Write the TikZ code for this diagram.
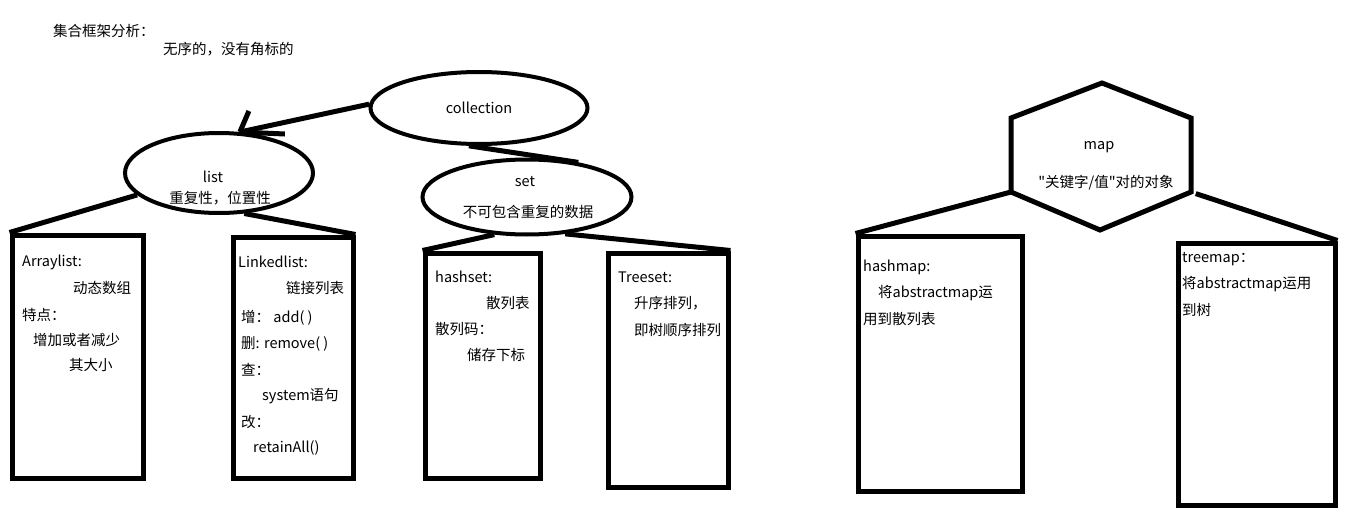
\documentclass[tikz,border=0pt]{standalone}
\usepackage{fontspec}
\setmainfont{Noto Sans CJK SC}[Ligatures=TeXOff]
\usetikzlibrary{shapes.geometric}
\tikzset{
    oval/.style={
        draw,
        ellipse,
        line width=4pt,
        inner sep=0pt
    },
    classbox/.style={
        draw,
        line width=5pt,
        inner sep=0pt
    },
    link/.style={line width=5pt},
    txt/.style={anchor=west, inner sep=0pt},
    ctxt/.style={inner sep=0pt},
    every node/.style={font=\fontsize{14.5}{17}\selectfont}
}
\begin{document}
\begin{tikzpicture}[x=1pt,y=-1pt]
\useasboundingbox (0,0) rectangle (1360,527);

% heading
\node[txt] (head1) at (53,31) {集合框架分析：};
\node[txt] (head2) at (163,49) {无序的，没有角标的};

% collection
\node[oval, minimum width=217pt, minimum height=72pt] (collection) at (479,108) {collection};

% list
\node[oval, minimum width=188pt, minimum height=80pt] (list) at (219,173) {};
\node[ctxt] (listname) at (213,177) {list};
\node[ctxt] (listnote) at (220,198) {重复性，位置性};

% set
\node[oval, minimum width=209pt, minimum height=75pt] (set) at (527,197) {};
\node[ctxt] (setname) at (525,182) {set};
\node[ctxt] (setnote) at (528,212) {不可包含重复的数据};

% map
\coordinate (mapT) at (1102,83);
\coordinate (mapUR) at (1191,118);
\coordinate (mapLR) at (1191,192);
\coordinate (mapB) at (1100,230);
\coordinate (mapLL) at (1011,192);
\coordinate (mapUL) at (1011,118);
\draw[link] (mapT) -- (mapUR) -- (mapLR) -- (mapB) -- (mapLL) -- (mapUL) -- cycle;
\node[ctxt] (mapname) at (1099,147) {map};
\node[ctxt] (mapnote) at (1106,183) {"关键字/值"对的对象};

% boxes
\node[classbox, minimum width=131pt, minimum height=243pt] (arraylist) at (77.5,356.5) {};
\node[classbox, minimum width=120pt, minimum height=241pt] (linkedlist) at (293,357.5) {};
\node[classbox, minimum width=115pt, minimum height=225pt] (hashset) at (482.5,365.5) {};
\node[classbox, minimum width=120pt, minimum height=234pt] (treeset) at (668,370) {};
\node[classbox, minimum width=164pt, minimum height=255pt] (hashmap) at (940,363.5) {};
\node[classbox, minimum width=157pt, minimum height=262pt] (treemap) at (1256.5,374) {};

% Arraylist
\node[txt] (al1) at (22,262) {Arraylist:};
\node[txt] (al2) at (73,288) {动态数组};
\node[txt] (al3) at (22,315) {特点：};
\node[txt] (al4) at (33,340) {增加或者减少};
\node[txt] (al5) at (69,365) {其大小};

% Linkedlist
\node[txt] (ll1) at (238,262) {Linkedlist:};
\node[txt] (ll2) at (286,288) {链接列表};
\node[txt] (ll3) at (241,318) {增： add( )};
\node[txt] (ll4) at (241,344) {删: remove( )};
\node[txt] (ll5) at (241,370) {查：};
\node[txt] (ll6) at (262,396) {system语句};
\node[txt] (ll7) at (241,422) {改：};
\node[txt] (ll8) at (253,448) {retainAll()};

% hashset
\node[txt] (hs1) at (435,277) {hashset:};
\node[txt] (hs2) at (486,303) {散列表};
\node[txt] (hs3) at (435,329) {散列码：};
\node[txt] (hs4) at (467,355) {储存下标};

% Treeset
\node[txt] (ts1) at (618,277) {Treeset:};
\node[txt] (ts2) at (634,303) {升序排列，};
\node[txt] (ts3) at (634,330) {即树顺序排列};

% hashmap
\node[txt] (hm1) at (863,267) {hashmap:};
\node[txt] (hm2) at (878,293) {将abstractmap运};
\node[txt] (hm3) at (863,319) {用到散列表};

% treemap
\node[txt] (tm1) at (1182,259) {treemap：};
\node[txt] (tm2) at (1182,284) {将abstractmap运用};
\node[txt] (tm3) at (1182,310) {到树};

% connectors
\draw[link] (collection.178) -- (list.63);
\draw[link] (list.63) -- ++(9,-21);
\draw[link] (list.63) -- ++(45,2);
\draw[link] (collection.255) -- (set.34);
\draw[link] (list.195) -- (arraylist.north west);
\draw[link] (list.302) -- (linkedlist.north east);
\draw[link] (set.229) -- (hashset.north west);
\draw[link] (set.316) -- (treeset.north east);
\draw[link] (mapLL) -- (hashmap.north west);
\draw[link, shorten <=5pt] (mapLR) -- (treemap.north east);
\end{tikzpicture}
\end{document}
